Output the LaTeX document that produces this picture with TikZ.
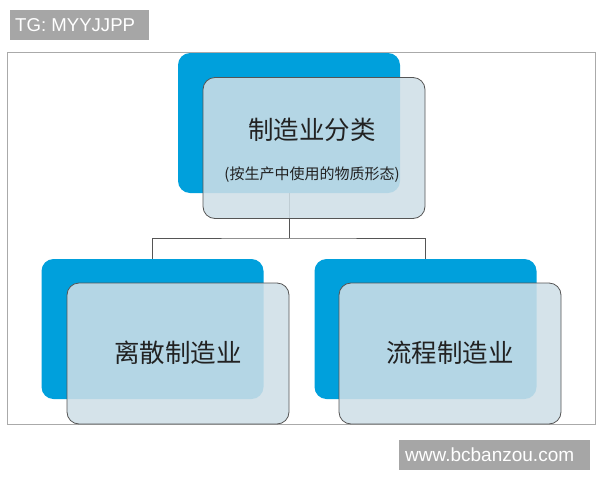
\documentclass[tikz,border=0pt]{standalone}
\usepackage{fontspec}
\setmainfont{Liberation Sans}
\newfontfamily\cjk{Noto Sans CJK SC}
\definecolor{bluebox}{RGB}{0,160,220}
\definecolor{lightbox}{RGB}{207,223,231}
\definecolor{tagbg}{RGB}{166,166,166}
\definecolor{framegray}{RGB}{170,170,170}
\definecolor{linegray}{RGB}{85,85,85}
\definecolor{txt}{RGB}{34,34,34}
\tikzset{
  backbox/.style={fill=bluebox, draw=none, rounded corners=12pt, minimum width=222pt, minimum height=140pt, inner sep=0pt},
  frontbox/.style={fill=lightbox, fill opacity=0.87, draw=linegray, line width=0.8pt, rounded corners=12pt, minimum width=222pt, minimum height=141pt, inner sep=0pt},
  tag/.style={fill=tagbg, inner sep=0pt, anchor=north west},
  tagtxt/.style={anchor=west, text=white, inner sep=0pt},
  bigtxt/.style={text=txt, font=\cjk\fontsize{25.5}{28}\selectfont, inner sep=0pt},
  smalltxt/.style={text=txt, font=\cjk\fontsize{15}{17}\selectfont, inner sep=0pt},
  conn/.style={draw=linegray, line width=0.9pt}
}
\begin{document}
\begin{tikzpicture}[x=1pt,y=-1pt]
\useasboundingbox (0,0) rectangle (600,480);
\fill[white] (0,0) rectangle (600,480);
% tags
\node[tag, minimum width=139pt, minimum height=30pt] (tg) at (10,10) {};
\node[tagtxt, font=\fontsize{18.6}{20}\selectfont] (tgt) at (15,25) {TG: MYYJJPP};
\node[tag, minimum width=191pt, minimum height=30pt] (www) at (399,440) {};
\node[tagtxt, font=\fontsize{19}{20}\selectfont] (wwwt) at (405,455) {www.bcbanzou.com};
% frame
\draw[framegray, line width=0.9pt] (7,52) rectangle (595,424);
% blue boxes
\node[backbox] (topb) at (289,123) {};
\node[backbox] (leftb) at (152.5,329) {};
\node[backbox] (rightb) at (425.5,329) {};
% connectors
\coordinate (mid) at (289,238);
\draw[conn] (topb.south) -- (mid);
\draw[conn] (leftb.north) |- (mid) -| (rightb.north);
% front boxes
\node[frontbox] (topf) at (314,148) {};
\node[frontbox] (leftf) at (178,353.5) {};
\node[frontbox] (rightf) at (450,353.5) {};
% texts
\node[bigtxt] (t1) at (312,130) {制造业分类};
\node[smalltxt] (t2) at (312,175) {(按生产中使用的物质形态)};
\node[bigtxt] (t3) at (178,353) {离散制造业};
\node[bigtxt] (t4) at (450,353) {流程制造业};
\end{tikzpicture}
\end{document}
